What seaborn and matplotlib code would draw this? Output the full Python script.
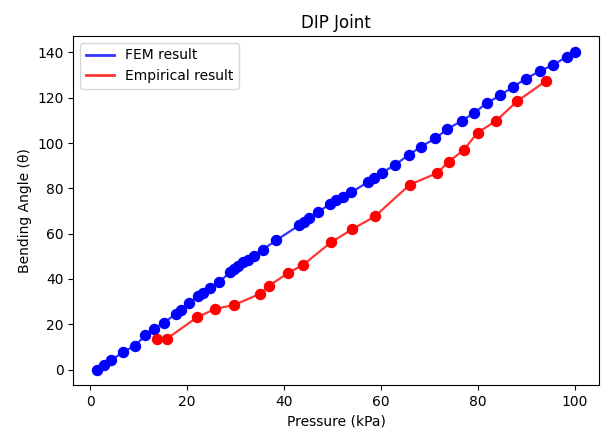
import matplotlib
matplotlib.use("Agg")
import matplotlib.pyplot as plt
import seaborn as sns
import pandas as pd

fem_pressure = [1.5, 2.85, 4.3, 6.8, 9.3, 11.4, 13.1, 15.2, 17.7, 18.7, 20.4, 22.3, 23.3,
                24.7, 26.5, 28.9, 29.7, 30.6, 31.6, 32.5, 33.7, 35.6, 38.4, 43.1, 44.1,
                45.1, 47.0, 49.4, 50.8, 52.1, 53.9, 57.2, 58.5, 60.2, 62.9, 65.7, 68.2,
                71.2, 73.6, 76.6, 79.2, 81.8, 84.6, 87.2, 89.9, 92.7, 95.5, 98.3, 100.0]
fem_angle = [0.0, 2.1, 4.0, 7.7, 10.6, 15.1, 18.0, 20.5, 24.7, 26.2, 29.2, 32.6, 33.6,
             35.8, 38.5, 43.0, 44.5, 45.8, 47.4, 48.5, 50.3, 53.0, 57.1, 63.7, 65.3,
             67.1, 69.4, 73.1, 74.9, 76.1, 78.3, 82.7, 84.7, 86.8, 90.5, 94.7, 98.4,
             102.1, 106.1, 109.8, 113.3, 117.7, 121.1, 124.9, 128.4, 131.8, 134.5, 138.2, 140.3]

emp_pressure = [13.8, 15.9, 22.0, 25.8, 29.7, 35.0, 36.9, 40.8, 43.9, 49.7, 54.0, 58.7,
                65.9, 71.6, 73.9, 77.0, 79.9, 83.7, 88.0, 93.9]
emp_angle = [13.7, 13.7, 23.0, 26.8, 28.5, 33.4, 37.0, 42.6, 46.2, 56.2, 61.9, 67.6,
             81.6, 86.8, 91.7, 96.9, 104.6, 109.8, 118.4, 127.3]

fem = pd.DataFrame({"p": fem_pressure, "a": fem_angle})
emp = pd.DataFrame({"p": emp_pressure, "a": emp_angle})

fig, ax = plt.subplots(figsize=(6.02, 4.38), dpi=100)
sns.lineplot(data=fem, x="p", y="a", color="blue", label="FEM result", ax=ax,
             sort=False, estimator=None, alpha=0.8, linewidth=1.6)
sns.lineplot(data=emp, x="p", y="a", color="red", label="Empirical result", ax=ax,
             sort=False, estimator=None, alpha=0.8, linewidth=1.6)
ax.plot(fem["p"], fem["a"], "o", color="blue", markersize=7.2)
ax.plot(emp["p"], emp["a"], "o", color="red", markersize=7.2)

ax.set_title("DIP Joint")
ax.set_xlabel("Pressure (kPa)")
ax.set_ylabel("Bending Angle (θ)")
leg = ax.legend(loc="upper left")
for h in leg.get_lines():
    h.set_linewidth(2.0)
fig.subplots_adjust(left=0.122, right=0.995, top=0.918, bottom=0.12)
fig.savefig("out.png", dpi=100)
